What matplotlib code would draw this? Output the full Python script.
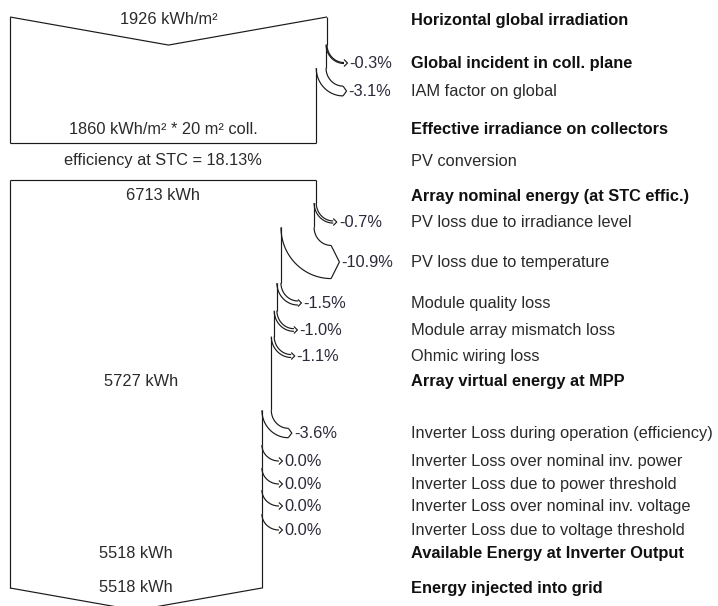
import numpy as np
import matplotlib.pyplot as plt

plt.rcParams['font.family'] = ['Liberation Sans', 'DejaVu Sans']

# steps of the loss diagram, top to bottom
step_labels = [
    "Horizontal global irradiation",
    "Global incident in coll. plane",
    "IAM factor on global",
    "Effective irradiance on collectors",
    "PV conversion",
    "Array nominal energy (at STC effic.)",
    "PV loss due to irradiance level",
    "PV loss due to temperature",
    "Module quality loss",
    "Module array mismatch loss",
    "Ohmic wiring loss",
    "Array virtual energy at MPP",
    "Inverter Loss during operation (efficiency)",
    "Inverter Loss over nominal inv. power",
    "Inverter Loss due to power threshold",
    "Inverter Loss over nominal inv. voltage",
    "Inverter Loss due to voltage threshold",
    "Available Energy at Inverter Output",
    "Energy injected into grid",
]
step_bold = [1, 1, 0, 1, 0, 1, 0, 0, 0, 0, 0, 1, 0, 0, 0, 0, 0, 1, 1]
# loss (%) of each step, nan = no loss arrow
loss_pct = [np.nan, -0.3, -3.1, np.nan, np.nan, np.nan, -0.7, -10.9, -1.5, -1.0, -1.1,
            np.nan, -3.6, 0.0, 0.0, 0.0, 0.0, np.nan, np.nan]
# energy values written inside the boxes
level_text = {0: "1926 kWh/m²", 3: "1860 kWh/m² * 20 m² coll.",
              4: "efficiency at STC = 18.13%", 5: "6713 kWh", 11: "5727 kWh",
              17: "5518 kWh", 18: "5518 kWh"}

# layout (pixels)
row_y = [20, 63, 91, 129, 161, 196, 222, 262, 303, 330, 356, 381,
         433, 461, 484, 506, 530, 553, 588]
x_left = 10
full_w = 317
box1_top, box1_bot = 17, 143
box2_top, box2_bot = 180, 588
lc = '#1a1a1a'
fs = 11.8

fig = plt.figure(figsize=(7.18, 6.06), dpi=100)
ax = fig.add_axes([0, 0, 1, 1])
ax.set_xlim(0, 718)
ax.set_ylim(606, 0)
ax.axis('off')


def line(xs, ys):
    ax.plot(xs, ys, color=lc, lw=0.85, solid_capstyle='butt')


def quarter(x0, y0, x1, y1):
    t = np.linspace(0, np.pi / 2, 30)
    line(x1 - (x1 - x0) * np.cos(t), y0 + (y1 - y0) * np.sin(t))


frac = 1.0
cur_x = x_left + full_w * frac
depth = 0.177

# box 1 top (V shape)
mid = (x_left + cur_x) / 2
line([x_left, mid, cur_x], [box1_top, box1_top + depth * (cur_x - x_left) / 2, box1_top])
line([x_left, x_left], [box1_top, box1_bot])
seg_start = box1_top

for i, lab in enumerate(step_labels):
    ya = row_y[i]
    ax.text(411, ya + 0.8, lab, fontsize=fs, va='center', ha='left',
            fontweight='bold' if step_bold[i] else 'normal',
            color='#111111' if step_bold[i] else '#2a2a2a')
    p = loss_pct[i]
    if not np.isnan(p):
        x0 = cur_x
        frac = frac * (1 + p / 100)
        x1 = x_left + full_w * frac
        w = x0 - x1
        ys = ya - w / 2 - (18 if w > 0 else 16)
        line([x0, x0], [seg_start, ys])
        L = max(w / 4, 3.5)
        h = max(w / 2, 3.5)
        base = x0 + 17
        tip = base + L
        quarter(x0, ys, base, ya - w / 2)
        if w > 0:
            quarter(x1, ys, base, ya + w / 2)
        line([tip - L, tip, tip - L], [ya - h, ya, ya + h])
        ax.text(tip + 2, ya + 0.8, f"{p:.1f}%", fontsize=fs, va='center', ha='left',
                color='#2a2a3a')
        seg_start = ys
        cur_x = x1
    if i in level_text:
        ax.text((x_left + cur_x) / 2, ya, level_text[i], fontsize=fs,
                va='center', ha='center', color='#2a2a2a')
    if i == 3:
        # close box 1
        line([cur_x, cur_x], [seg_start, box1_bot])
        line([x_left, cur_x], [box1_bot, box1_bot])
        # open box 2
        line([x_left, cur_x], [box2_top, box2_top])
        line([x_left, x_left], [box2_top, box2_bot])
        seg_start = box2_top

# close box 2 with the bottom V
line([cur_x, cur_x], [seg_start, box2_bot])
mid = (x_left + cur_x) / 2
line([x_left, mid, cur_x], [box2_bot, box2_bot + depth * (cur_x - x_left) / 2, box2_bot])

fig.savefig('out.png', dpi=100, facecolor='white')
